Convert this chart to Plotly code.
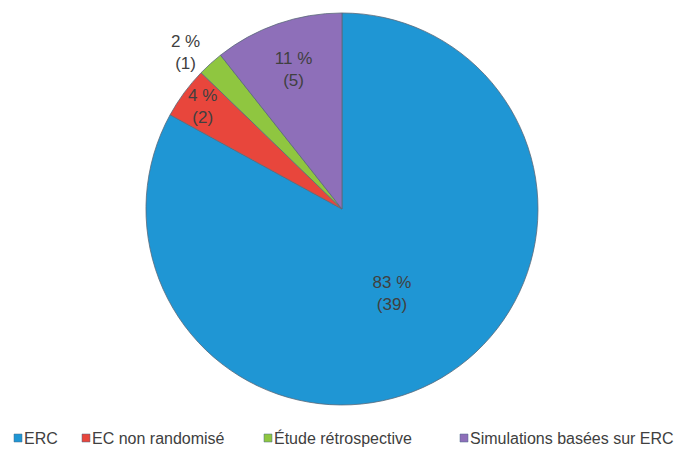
import plotly.graph_objects as go

labels = ["ERC", "EC non randomisé", "Étude rétrospective", "Simulations basées sur ERC"]
counts = [39, 2, 1, 5]
percents = [83, 4, 2, 11]
colors = ["#1f96d4", "#e8463c", "#8fc640", "#8e6fb9"]

# the page body keeps its 8px margin, so the figure is 8px smaller than the window
W, H = 678, 441
FONT = "Liberation Sans, Arial, sans-serif"

texts = [f"{p} %<br>({c})" for p, c in zip(percents, counts)]

fig = go.Figure()
fig.add_trace(go.Pie(
    labels=labels,
    values=counts,
    text=texts,
    textinfo="text",
    textposition=["inside", "inside", "outside", "inside"],
    insidetextorientation="horizontal",
    textfont=dict(family=FONT, size=17, color="#404040"),
    marker=dict(colors=colors, line=dict(color="#5a6a7a", width=0.8)),
    sort=False,
    direction="clockwise",
    rotation=0,
    domain=dict(x=[0.2035, 0.7817], y=[0.0998, 0.9887]),
    showlegend=False,
))

# legend drawn by hand so the small squares sit close to their labels
legend_left = [6, 74, 256, 452]
for lab, col, x0 in zip(labels, colors, legend_left):
    fig.add_shape(type="rect", xref="paper", yref="paper",
                  x0=x0 / W, x1=(x0 + 8) / W,
                  y0=1 - 434 / H, y1=1 - 426 / H,
                  fillcolor=col, line=dict(color="#4a6a8a", width=0.5))
    fig.add_annotation(xref="paper", yref="paper", x=(x0 + 9) / W, y=1 - 430 / H,
                       text=lab, showarrow=False, xanchor="left", yanchor="middle",
                       borderpad=0,
                       font=dict(family=FONT, size=16, color="#404040"))

fig.update_layout(
    width=W,
    height=H,
    margin=dict(l=0, r=0, t=0, b=0),
    paper_bgcolor="white",
    uniformtext=dict(minsize=17, mode="show"),
)

fig.write_html("out.html")
